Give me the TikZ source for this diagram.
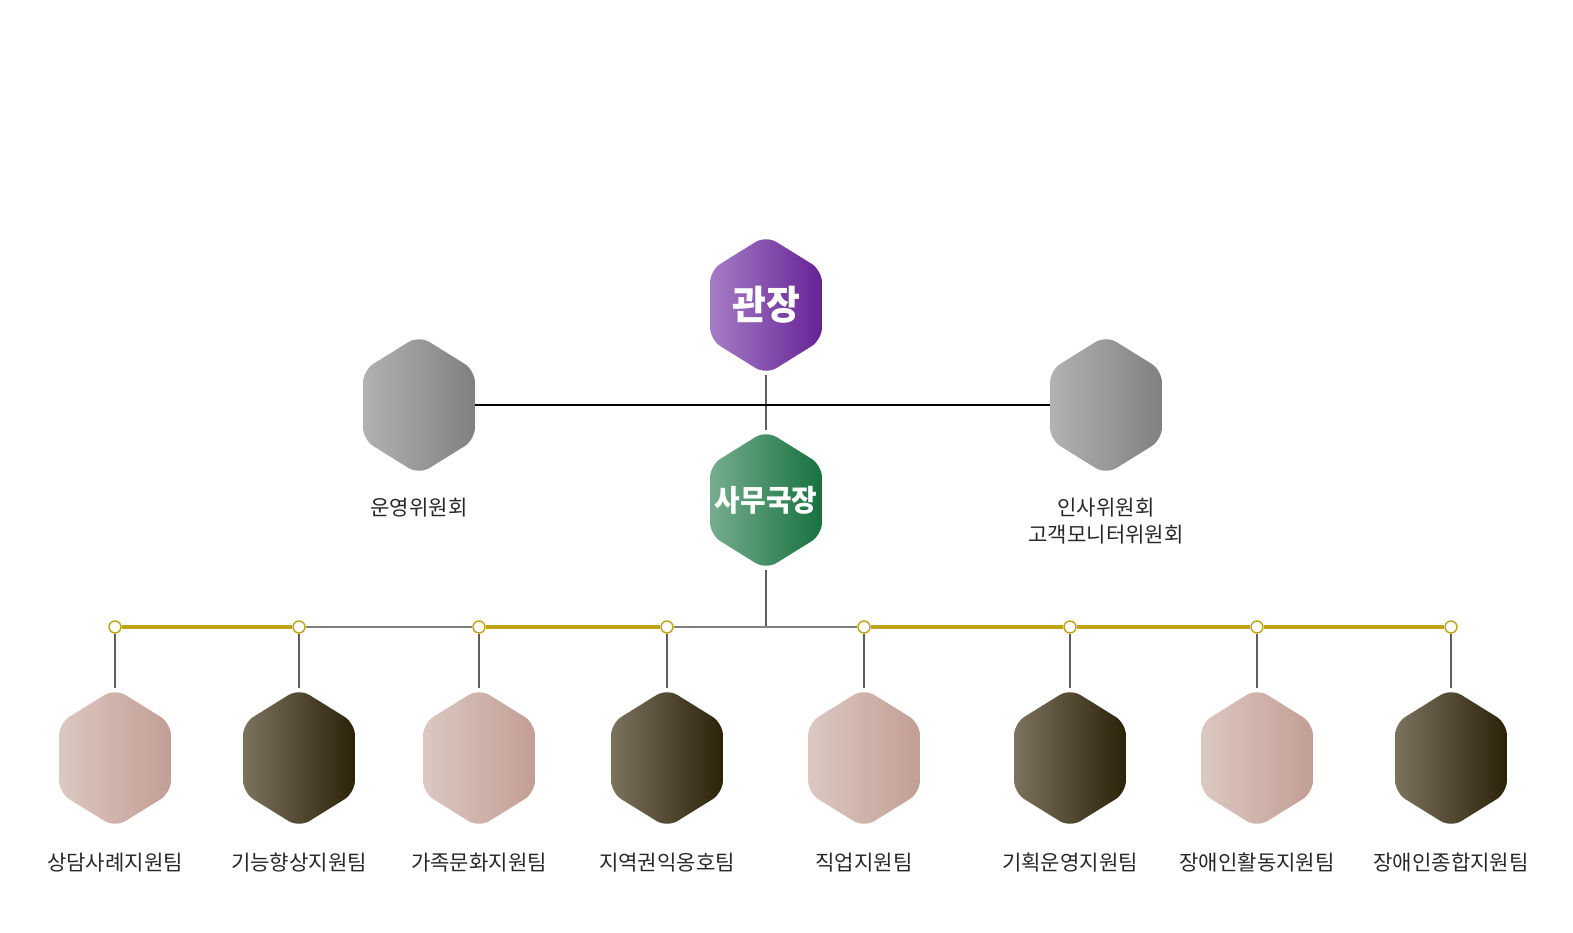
\documentclass[tikz,border=0pt]{standalone}
\usepackage{fontspec}
\setmainfont{Noto Sans CJK KR}
\usetikzlibrary{shapes.geometric}
\definecolor{chiefleft}{RGB}{165,125,198}
\definecolor{chiefright}{RGB}{102,34,150}
\definecolor{officeleft}{RGB}{118,172,142}
\definecolor{officeright}{RGB}{22,114,64}
\definecolor{boardleft}{RGB}{178,178,178}
\definecolor{boardright}{RGB}{128,128,128}
\definecolor{roseleft}{RGB}{220,200,194}
\definecolor{roseright}{RGB}{194,158,148}
\definecolor{umberleft}{RGB}{124,114,94}
\definecolor{umberright}{RGB}{44,34,10}
\definecolor{goldline}{RGB}{190,164,22}
\definecolor{stemgray}{RGB}{95,95,95}
\definecolor{textdark}{RGB}{40,40,40}

\begin{document}
\begin{tikzpicture}[
  hexa/.style={regular polygon,regular polygon sides=6,shape border rotate=30,xscale=0.93,
    minimum size=2.78cm,inner sep=0pt,rounded corners=7pt,align=center,text=white},
  chief/.style={hexa,left color=chiefleft,right color=chiefright,font=\fontsize{22.5}{26}\bfseries},
  office/.style={hexa,left color=officeleft,right color=officeright,font=\fontsize{17}{20}\bfseries},
  board/.style={hexa,left color=boardleft,right color=boardright},
  rose/.style={hexa,left color=roseleft,right color=roseright},
  umber/.style={hexa,left color=umberleft,right color=umberright},
  tag/.style={align=center,text=textdark,font=\fontsize{12}{15}\selectfont},
  joint/.style={circle,draw=goldline,fill=white,line width=0.8pt,minimum size=0.24cm,inner sep=0pt},
  gold/.style={goldline,line width=1.8pt},
  stem/.style={stemgray,line width=0.7pt}
]
\useasboundingbox (0,0) rectangle (31.46,-18.64);
\node[chief] (chief) at (15.32,-6.10) {\makebox[0pt]{관장}};
\node[board] (opboard) at (8.38,-8.10) {};
\node[board] (hrboard) at (22.12,-8.10) {};
\node[office] (office) at (15.32,-10.00) {\makebox[0pt]{사무국장}};
\node[tag] (opname) at (8.38,-10.16) {운영위원회};
\node[tag] (hrname) at (22.12,-10.42) {인사위원회\\고객모니터위원회};

\node[rose] (team1) at (2.30,-15.16) {};
\node[umber] (team2) at (5.98,-15.16) {};
\node[rose] (team3) at (9.58,-15.16) {};
\node[umber] (team4) at (13.34,-15.16) {};
\node[rose] (team5) at (17.28,-15.16) {};
\node[umber] (team6) at (21.40,-15.16) {};
\node[rose] (team7) at (25.14,-15.16) {};
\node[umber] (team8) at (29.02,-15.16) {};

\node[joint] (joint1) at (2.30,-12.54) {};
\node[joint] (joint2) at (5.98,-12.54) {};
\node[joint] (joint3) at (9.58,-12.54) {};
\node[joint] (joint4) at (13.34,-12.54) {};
\node[joint] (joint5) at (17.28,-12.54) {};
\node[joint] (joint6) at (21.40,-12.54) {};
\node[joint] (joint7) at (25.14,-12.54) {};
\node[joint] (joint8) at (29.02,-12.54) {};

\node[tag] (name1) at (2.30,-17.25) {상담사례지원팀};
\node[tag] (name2) at (5.98,-17.25) {기능향상지원팀};
\node[tag] (name3) at (9.58,-17.25) {가족문화지원팀};
\node[tag] (name4) at (13.34,-17.25) {지역권익옹호팀};
\node[tag] (name5) at (17.28,-17.25) {직업지원팀};
\node[tag] (name6) at (21.40,-17.25) {기획운영지원팀};
\node[tag] (name7) at (25.14,-17.25) {장애인활동지원팀};
\node[tag] (name8) at (29.02,-17.25) {장애인종합지원팀};

\draw[stem] (chief) -- (office);
\draw[black,line width=0.9pt] (opboard) -- (hrboard);
\draw[stem] (office) -- (office |- joint1);
\draw[gray,line width=1.2pt] (joint2) -- (joint3);
\draw[gray,line width=1.2pt] (joint4) -- (joint5);
\draw[gold] (joint1) -- (joint2);
\draw[gold] (joint3) -- (joint4);
\draw[gold] (joint5) -- (joint6);
\draw[gold] (joint6) -- (joint7);
\draw[gold] (joint7) -- (joint8);
\draw[stem] (joint1) -- (team1);
\draw[stem] (joint2) -- (team2);
\draw[stem] (joint3) -- (team3);
\draw[stem] (joint4) -- (team4);
\draw[stem] (joint5) -- (team5);
\draw[stem] (joint6) -- (team6);
\draw[stem] (joint7) -- (team7);
\draw[stem] (joint8) -- (team8);
\end{tikzpicture}
\end{document}
